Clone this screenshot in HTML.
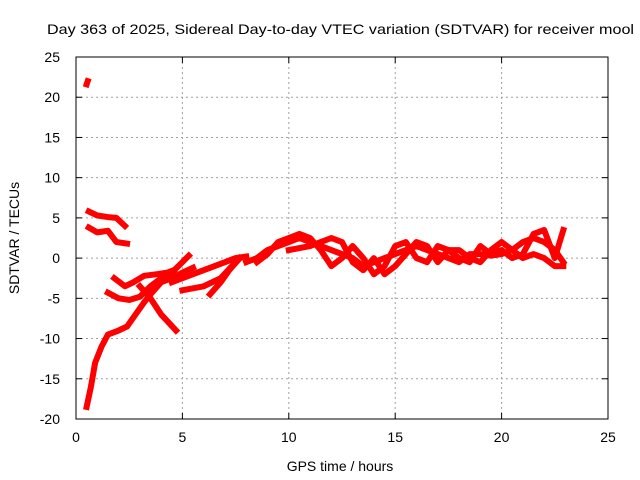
<!DOCTYPE html>
<html><head><meta charset="utf-8"><style>
body{margin:0;background:#fff;}
svg{display:block;font-family:"Liberation Sans",sans-serif;}
</style></head><body>
<svg id="chart" width="640" height="480" viewBox="0 0 640 480" xmlns="http://www.w3.org/2000/svg">
<g id="grid"></g>
<g id="series"></g>
<rect x="76" y="57" width="532" height="362" fill="none" stroke="#000" stroke-width="1"/>
<g id="axes"></g>
<text x="47" y="34" font-size="14" textLength="587" lengthAdjust="spacingAndGlyphs" fill="#000">Day 363 of 2025, Sidereal Day-to-day VTEC variation (SDTVAR) for receiver mool</text>
<text x="340" y="471" font-size="14" text-anchor="middle">GPS time / hours</text>
<text transform="translate(19,238) rotate(-90)" font-size="14" text-anchor="middle">SDTVAR / TECUs</text>
</svg>
<script>
const xTicks=[0,5,10,15,20,25];
const yTicks=[25,20,15,10,5,0,-5,-10,-15,-20];
const trackA=[[0.6,5.8],[1.0,5.3],[1.5,5.1],[1.9,5.0],[2.3,4.0]];
const trackB=[[0.6,3.8],[1.0,3.2],[1.5,3.4],[1.9,2.0],[2.4,1.8]];
const trackSpike=[[0.5,21.6],[0.55,22.0]];
const trackC=[[0.5,-18.5],[0.7,-16],[0.9,-13],[1.2,-11],[1.5,-9.5],[2.0,-9],[2.4,-8.5],[2.8,-7],[3.2,-5.5],[3.5,-4.5],[4.0,-3],[4.5,-2.5],[5.0,-1.8],[5.5,-1.2]];
const trackD=[[1.5,-4.3],[2.0,-5],[2.5,-5.2],[3.0,-4.8],[3.5,-3.5],[4.0,-2.5],[4.5,-1.8],[5.0,-0.5],[5.3,0.3]];
const trackE=[[1.8,-2.5],[2.3,-3.5],[2.7,-3],[3.2,-2.2],[3.8,-2],[4.3,-1.8],[4.6,-1.5]];
const trackF=[[3.0,-3.5],[3.5,-5],[4.0,-7],[4.7,-9]];
const trackG=[[4.5,-3],[5.0,-2.5],[5.5,-2],[6.0,-1.5],[6.5,-1],[7.0,-0.5],[7.5,0],[8.0,0.2]];
const trackH=[[5,-4],[6,-3.5],[6.8,-2.5],[7.5,-0.5]];
const trackI=[[6.3,-4.5],[6.8,-3],[7.2,-1.5],[7.7,0]];
const trackJ=[[8.0,-0.5],[8.5,0],[9,1],[9.5,1.5],[10,2],[10.5,2.5],[11,2],[11.5,1.5],[12,1],[12.5,0.5],[13,0],[13.5,-1],[14,-0.5],[14.5,0],[15,0.5],[15.5,1],[16,1.5],[16.5,1],[17,0.5],[17.5,0],[18,-0.5],[18.5,0.5],[19,0.5],[19.5,0.3],[20,0.5],[20.5,1],[21,2],[21.5,2.5],[22,2],[22.5,1],[22.9,-0.5]];
const trackK=[[8.5,-0.5],[9,0.5],[9.5,2],[10,2.5],[10.5,3],[11,2.5],[11.5,1],[12,-1],[12.5,0],[13,1.5],[13.5,0],[14,-2],[14.5,-1],[15,1.5],[15.5,2],[16,0],[16.5,-0.5],[17,1.5],[17.5,1],[18,0],[18.5,-0.5],[19,1.5],[19.5,0.5],[20,1],[20.5,0],[21,0.5],[21.5,3],[22,3.5],[22.5,0],[22.9,3.5]];
const trackL=[[10,1],[11,1.5],[12,2.5],[12.5,2],[13,-0.5],[13.5,-1.5],[14,0],[14.5,-2],[15,-1],[15.5,0.5],[16,2],[16.5,1.5],[17,-0.5],[17.5,1],[18,1],[18.5,0],[19,-0.5],[19.5,1],[20,2],[20.5,1],[21,0],[21.5,0.5],[22,0],[22.5,-1],[22.9,-1]];
const tracks=[trackA,trackB,trackSpike,trackC,trackD,trackE,trackF,trackG,trackH,trackI,trackJ,trackK,trackL];

const NS="http://www.w3.org/2000/svg";
const X0=76,X1=608,Y0=419,Y1=57,xmin=0,xmax=25,ymin=-20,ymax=25;
const sx=v=>X0+(v-xmin)/(xmax-xmin)*(X1-X0);
const sy=v=>Y0-(v-ymin)/(ymax-ymin)*(Y0-Y1);
const grid=document.getElementById('grid'),axes=document.getElementById('axes'),ser=document.getElementById('series');
function mk(t,a,p){const e=document.createElementNS(NS,t);for(const k in a)e.setAttribute(k,a[k]);p.appendChild(e);return e;}
xTicks.forEach(v=>{
  const x=sx(v);
  if(v>xmin&&v<xmax){const g=mk('line',{x1:x,x2:x,y1:Y0,y2:Y1,stroke:'#a0a0a0','stroke-dasharray':'2,3'},grid);
  
  }
  const t=mk('line',{x1:x,x2:x,y1:Y0,y2:Y0-6,stroke:'#000'},axes);
  
  
  const t2=mk('line',{x1:x,x2:x,y1:Y1,y2:Y1+6,stroke:'#000'},axes);
  
  
  const l=mk('text',{x:x,y:442,'font-size':14,'text-anchor':'middle'},axes);l.textContent=v;
  
  
});
yTicks.forEach(v=>{
  const y=sy(v);
  if(v>ymin&&v<ymax){const g=mk('line',{x1:X0,x2:X1,y1:y,y2:y,stroke:'#a0a0a0','stroke-dasharray':'2,3'},grid);
  
  }
  const t=mk('line',{x1:X0,x2:X0+6,y1:y,y2:y,stroke:'#000'},axes);
  
  
  const t2=mk('line',{x1:X1,x2:X1-6,y1:y,y2:y,stroke:'#000'},axes);
  
  
  const l=mk('text',{x:60,y:y+5,'font-size':14,'text-anchor':'end'},axes);l.textContent=v;
  
  
});
tracks.forEach(tr=>{
  const p=mk('polyline',{points:tr.map(d=>sx(d[0])+','+sy(d[1])).join(' '),fill:'none',stroke:'#ff0000','stroke-width':6,'stroke-linejoin':'round','stroke-linecap':'square'},ser);
  
  
});
</script>
</body></html>
